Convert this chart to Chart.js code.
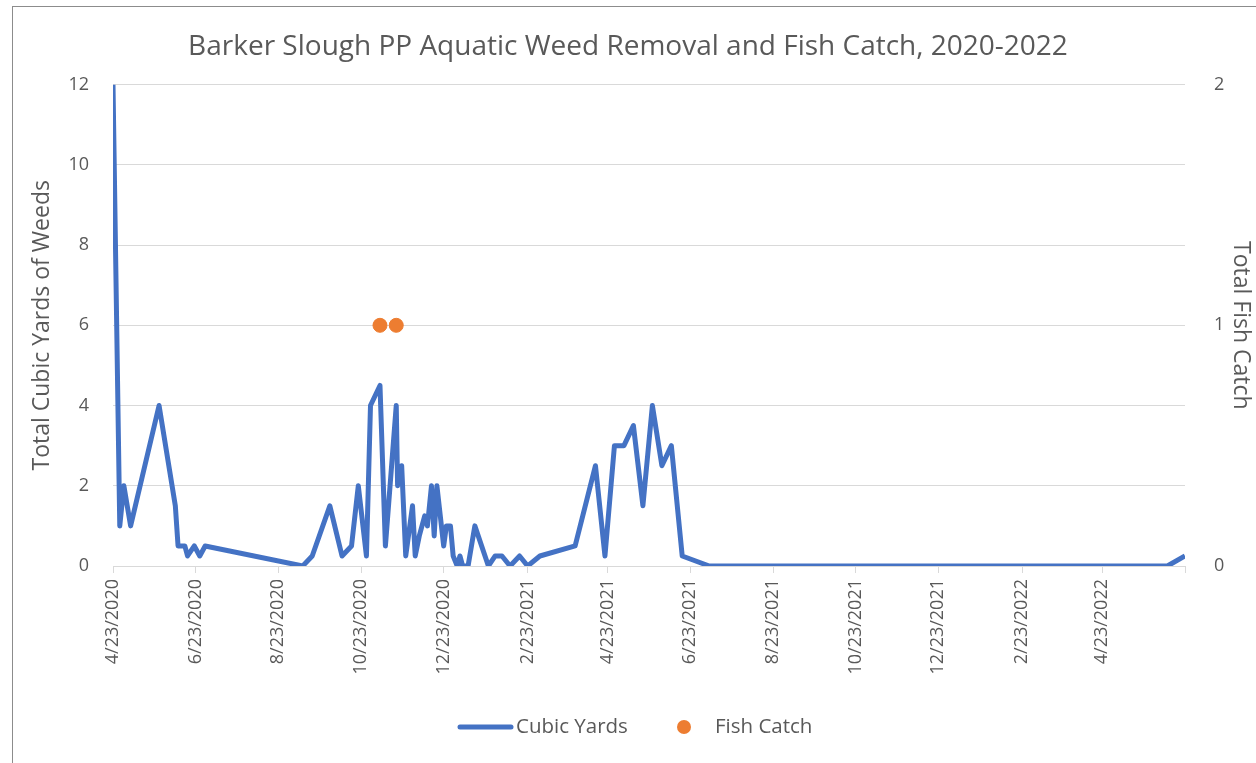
<!DOCTYPE html>
<html>
<head>
<meta charset="utf-8">
<title>Barker Slough PP</title>
<script src="https://cdn.jsdelivr.net/npm/chart.js@4.4.0/dist/chart.umd.min.js"></script>
<style>
  html, body { margin: 0; padding: 0; background: #fff; overflow: hidden; }
  #wrap { position: relative; width: 1256px; height: 763px; }
  #frame { position: absolute; left: 12px; top: 6px; width: 1300px; height: 800px; border: 1px solid #8c8c8c; pointer-events: none; }
</style>
</head>
<body>
<div id="wrap">
  <canvas id="grafico" width="1256" height="763"></canvas>
  <div id="frame"></div>
</div>
<script>
// eixo de datas: dias contados a partir de 4/23/2020
const inicio = '4/23/2020'
const fimEixo = '6/23/2022'
const tickLabels = ['4/23/2020', '6/23/2020', '8/23/2020', '10/23/2020', '12/23/2020', '2/23/2021',
  '4/23/2021', '6/23/2021', '8/23/2021', '10/23/2021', '12/23/2021', '2/23/2022', '4/23/2022']

// Cubic Yards (dias desde o inicio)
const weedDays = [0, 5, 8, 13, 34, 46, 48, 53, 55, 60, 64, 68, 140, 147, 160, 169, 176, 181, 187, 190,
  197, 201, 209, 210, 213, 216, 221, 223, 226, 230, 232, 235, 237, 239, 244, 246, 249, 251, 254, 256,
  258, 262, 267, 277, 282, 287, 293, 300, 306, 315, 341, 356, 363, 370, 377, 384, 391, 398, 405, 412,
  420, 440, 778, 791]
const cubicYards = [12, 1, 2, 1, 4, 1.5, 0.5, 0.5, 0.25, 0.5, 0.25, 0.5, 0, 0.25, 1.5, 0.25, 0.5, 2, 0.25, 4,
  4.5, 0.5, 4, 2, 2.5, 0.25, 1.5, 0.25, 0.75, 1.25, 1, 2, 0.75, 2, 0.5, 1, 1, 0.25, 0, 0.25,
  0, 0, 1, 0, 0.25, 0.25, 0, 0.25, 0, 0.25, 0.5, 2.5, 0.25, 3, 3, 3.5, 1.5, 4, 2.5, 3,
  0.25, 0, 0, 0.25]

// Fish Catch
const fishDays = [197, 209]
const fishCatch = [1, 1]

const fonte = 'Open Sans'
const cinza = '#595959'

const dias = (s) => {
    const [m, d, y] = s.split('/').map(Number)
    const [m0, d0, y0] = inicio.split('/').map(Number)
    return Math.round((Date.UTC(y, m - 1, d) - Date.UTC(y0, m0 - 1, d0)) / 86400000)
}
const diasTicks = tickLabels.map(dias)
const maxDias = dias(fimEixo)

// legenda desenhada a mao (linha + circulo)
const legenda = {
    id: 'legenda',
    afterDraw(chart) {
        const c = chart.ctx
        const y = 727
        const dsL = chart.data.datasets[0]
        const dsP = chart.data.datasets[1]
        c.save()
        c.strokeStyle = dsL.borderColor
        c.lineWidth = 5
        c.lineCap = 'round'
        c.beginPath()
        c.moveTo(460, y)
        c.lineTo(511, y)
        c.stroke()
        c.fillStyle = dsP.backgroundColor
        c.beginPath()
        c.arc(684, y, 7, 0, Math.PI * 2)
        c.fill()
        c.fillStyle = cinza
        c.font = '20.5px "' + fonte + '"'
        c.textBaseline = 'middle'
        c.fillText(dsL.label, 516, y)
        c.fillText(dsP.label, 715, y)
        c.restore()
    }
}

const ctx = document.getElementById('grafico')

let grafico = new Chart(ctx, {
    data: {
        datasets: [{
            type: 'line',
            label: 'Cubic Yards',
            data: weedDays.map((d, i) => ({ x: d, y: cubicYards[i] })),
            borderColor: '#4472C4',
            backgroundColor: '#4472C4',
            borderWidth: 5,
            borderJoinStyle: 'round',
            pointRadius: 0,
            yAxisID: 'y',
            order: 2
        }, {
            type: 'scatter',
            label: 'Fish Catch',
            data: fishDays.map((d, i) => ({ x: d, y: fishCatch[i] })),
            backgroundColor: '#ED7D31',
            borderColor: '#ED7D31',
            pointRadius: 7,
            yAxisID: 'y2',
            order: 1
        }]
    },
    options: {
        responsive: false,
        animation: false,
        devicePixelRatio: 1,
        layout: { padding: 0 },
        plugins: {
            legend: { display: false },
            tooltip: { enabled: false },
            title: {
                display: true,
                text: 'Barker Slough PP Aquatic Weed Removal and Fish Catch, 2020-2022',
                color: cinza,
                font: { family: fonte, size: 28, weight: 'normal' },
                padding: { top: 30, bottom: 21 }
            }
        },
        scales: {
            x: {
                type: 'linear',
                min: 0,
                max: maxDias,
                afterBuildTicks: (s) => {
                    s.ticks = diasTicks.concat([maxDias]).map(v => ({ value: v }))
                },
                afterFit: (s) => { s.height = 197 },
                ticks: {
                    autoSkip: false,
                    minRotation: 90,
                    maxRotation: 90,
                    padding: 6,
                    color: cinza,
                    font: { family: fonte, size: 18 },
                    callback: (v) => {
                        const i = diasTicks.indexOf(v)
                        return i >= 0 ? tickLabels[i] : ''
                    }
                },
                grid: { drawOnChartArea: false, color: '#d9d9d9', tickLength: 7 },
                border: { color: '#d9d9d9', width: 1 }
            },
            y: {
                position: 'left',
                min: 0,
                max: 12,
                afterFit: (s) => { s.width = 113 },
                ticks: { stepSize: 2, padding: 24, color: cinza, font: { family: fonte, size: 18 } },
                grid: { color: '#d9d9d9', drawTicks: false },
                border: { display: false },
                title: {
                    display: true,
                    text: 'Total Cubic Yards of Weeds',
                    color: cinza,
                    font: { family: fonte, size: 23 },
                    padding: { top: 29 }
                }
            },
            y2: {
                position: 'right',
                min: 0,
                max: 2,
                afterFit: (s) => { s.width = 71 },
                ticks: { stepSize: 1, padding: 21, color: cinza, font: { family: fonte, size: 18 } },
                grid: { display: false },
                border: { display: false },
                title: {
                    display: true,
                    text: 'Total Fish Catch',
                    color: cinza,
                    font: { family: fonte, size: 23 },
                    padding: { top: 2 }
                }
            }
        }
    },
    plugins: [legenda]
})
</script>
</body>
</html>
